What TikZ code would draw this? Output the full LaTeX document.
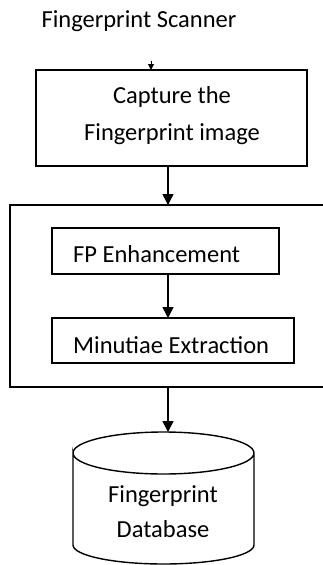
\documentclass[tikz,border=0pt]{standalone}
\usepackage{fontspec}
\setmainfont{Carlito}
\usetikzlibrary{arrows.meta}
\begin{document}
\begin{tikzpicture}[x=1pt,y=-1pt,
  box/.style={draw, line width=1.4pt},
  lbl/.style={inner sep=0pt, font=\fontsize{24.5}{36}\selectfont},
  flow/.style={line width=1.6pt, -{Triangle[length=11pt,width=11pt]}},
  tiny/.style={line width=1pt, -{Triangle[length=6pt,width=6pt]}}]
\useasboundingbox (0,0) rectangle (323,565);
\clip (0,0) rectangle (323,565);

% title
\node[lbl, anchor=base] (title) at (139,27) {Fingerprint Scanner};

% capture stage
\draw[box] (36,70) rectangle (307,166);
\node[lbl, anchor=base] (cap1) at (172,103) {Capture the};
\node[lbl, anchor=base] (cap2) at (172,140) {Fingerprint image};
\coordinate (capIn) at (151,70);
\coordinate (capSrc) at (151,61);
\coordinate (capOut) at (168,166);

% processing block
\draw[box] (10,205) rectangle (340,387);
\coordinate (procIn) at (168,205);
\coordinate (procOut) at (168,387);

\draw[box] (52,228) rectangle (279,274);
\node[lbl, anchor=base west] (enh) at (73,262) {FP Enhancement};
\coordinate (enhOut) at (168,274);

\draw[box] (52,318) rectangle (294,363);
\node[lbl, anchor=base west] (minu) at (73,353) {Minutiae Extraction};
\coordinate (minuIn) at (168,318);

% database cylinder (y axis points down, so 270 deg is the top of an ellipse)
\draw[box] (73,453) arc[start angle=180, end angle=360, x radius=90.5, y radius=21]
  arc[start angle=0, end angle=180, x radius=90.5, y radius=21]
  -- (73,545) arc[start angle=180, end angle=0, x radius=90.5, y radius=19]
  -- (254,453);
\coordinate (dbIn) at (168,432);
\node[lbl, anchor=base] (db1) at (163,502) {Fingerprint};
\node[lbl, anchor=base] (db2) at (163,537) {Database};

% connectors
\draw[tiny] (capSrc) -- (capIn);
\draw[flow] (capOut) -- (procIn);
\draw[flow] (enhOut) -- (minuIn);
\draw[flow] (procOut) -- (dbIn);
\end{tikzpicture}
\end{document}
